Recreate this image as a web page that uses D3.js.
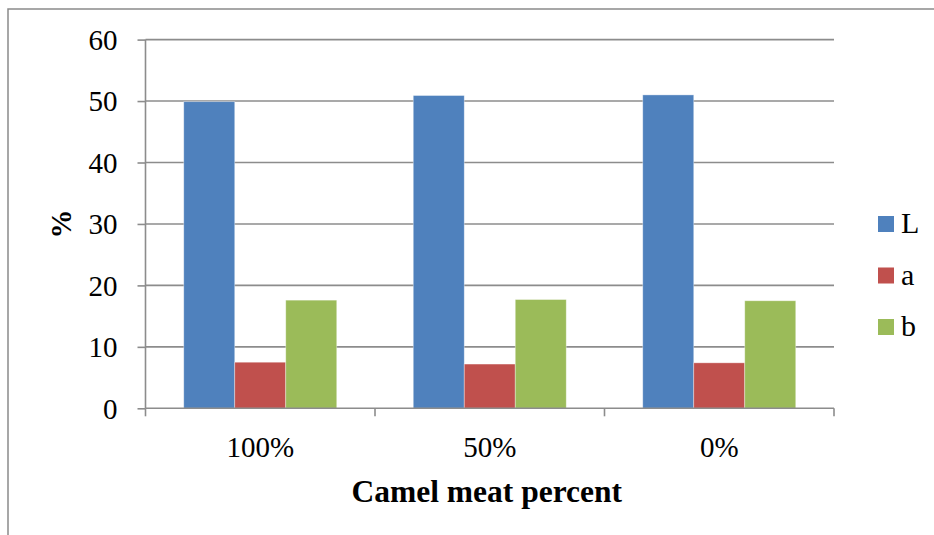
<!DOCTYPE html>
<html>
<head>
<meta charset="utf-8">
<script src="https://cdn.jsdelivr.net/npm/d3@7"></script>
<style>
  html, body { margin: 0; padding: 0; background: #fff; }
  svg { display: block; }
  text { font-family: "Liberation Serif", "Times New Roman", serif; fill: #000; }
</style>
</head>
<body>
<svg id="chart" width="934" height="535"></svg>
<script>
// Colour measurements per meat blend
const categories = ["100%", "50%", "0%"];
const seriesNames = ["L", "a", "b"];
const valuesL = [49.9, 50.9, 51.0];
const valuesA = [7.5, 7.2, 7.4];
const valuesB = [17.6, 17.7, 17.5];
const yTicks = [0, 10, 20, 30, 40, 50, 60];
const colors = ["#4F81BD", "#C0504D", "#9BBB59"];

const seriesValues = [valuesL, valuesA, valuesB];

const svg = d3.select("#chart");
const plotLeft = 145.5, plotRight = 834, plotTop = 39.6, plotBottom = 408.3;

// outer chart frame
svg.append("path")
  .attr("d", `M8,540 V9 H940`)
  .attr("fill", "none")
  .attr("stroke", "#8a8a8a")
  .attr("stroke-width", 1.5);

const x = d3.scaleBand().domain(categories).range([plotLeft, plotRight])
  .paddingInner(0).paddingOuter(0);
const bw = x.bandwidth();
const barW = bw / 4.5;
const gap = bw - barW * 3;
const xs = d3.scaleBand().domain(seriesNames)
  .range([gap / 2, gap / 2 + barW * 3]).padding(0);
const y = d3.scaleLinear().domain([0, 60]).range([plotBottom, plotTop]);

// horizontal gridlines
svg.append("g").selectAll("line").data(yTicks.filter(t => t > 0)).join("line")
  .attr("x1", plotLeft).attr("x2", plotRight)
  .attr("y1", d => y(d)).attr("y2", d => y(d))
  .attr("stroke", "#8c8c8c").attr("stroke-width", 1.6);

// bars
const groups = svg.append("g").selectAll("g").data(categories).join("g")
  .attr("transform", c => `translate(${x(c)},0)`);
groups.selectAll("rect")
  .data((c, i) => seriesNames.map((s, j) => ({ s, j, v: seriesValues[j][i] })))
  .join("rect")
  .attr("x", d => xs(d.s))
  .attr("width", xs.bandwidth())
  .attr("y", d => y(d.v))
  .attr("height", d => y(0) - y(d.v))
  .attr("fill", d => colors[d.j])
  .attr("stroke", "rgba(255,255,255,0.45)")
  .attr("stroke-width", 0.8);

// y axis
const yAxis = d3.axisLeft(y).tickValues(yTicks).tickSize(8).tickPadding(20)
  .tickFormat(d3.format("d"));
const gy = svg.append("g").attr("transform", `translate(${plotLeft},0)`).call(yAxis);
gy.select(".domain").attr("stroke", "#8c8c8c").attr("stroke-width", 1.6)
  .attr("d", `M0,${plotTop}V${plotBottom}`);
gy.selectAll(".tick line").attr("stroke", "#8c8c8c").attr("stroke-width", 1.6);
gy.selectAll(".tick text").attr("font-size", 29)
  .attr("font-family", "Liberation Serif, serif").attr("fill", "#000")
  .attr("dy", "0.34em");

// x axis
const xAxis = d3.axisBottom(x).tickSize(0).tickPadding(0);
const gx = svg.append("g").attr("transform", `translate(0,${plotBottom})`).call(xAxis);
gx.select(".domain").attr("stroke", "#8c8c8c").attr("stroke-width", 1.6)
  .attr("d", `M${plotLeft},0H${plotRight}`);
gx.selectAll(".tick text").attr("font-size", 29)
  .attr("font-family", "Liberation Serif, serif").attr("fill", "#000")
  .attr("y", 48.5).attr("dy", 0);
// category boundary ticks
const bounds = categories.map(c => x(c)).concat([plotRight]);
gx.selectAll(".bound").data(bounds).join("line").attr("class", "bound")
  .attr("x1", d => d).attr("x2", d => d).attr("y1", 0).attr("y2", 8)
  .attr("stroke", "#8c8c8c").attr("stroke-width", 1.6);

// axis titles
svg.append("text")
  .attr("x", (plotLeft + plotRight) / 2 - 3).attr("y", 502)
  .attr("text-anchor", "middle").attr("font-size", 31.5).attr("font-weight", "bold")
  .text("Camel meat percent");
svg.append("text")
  .attr("transform", `translate(61,${(plotTop + plotBottom) / 2}) rotate(-90)`)
  .attr("text-anchor", "middle").attr("dy", "0.33em")
  .attr("font-size", 29).attr("font-weight", "bold")
  .text("%");

// legend
const legend = svg.append("g").selectAll("g").data(seriesNames).join("g")
  .attr("transform", (d, i) => `translate(878,${216 + i * 51.5})`);
legend.append("rect").attr("width", 16).attr("height", 16)
  .attr("fill", (d, i) => colors[i]);
legend.append("text").attr("x", 23).attr("y", 17)
  .attr("font-size", 30).text(d => d);
</script>
</body>
</html>
